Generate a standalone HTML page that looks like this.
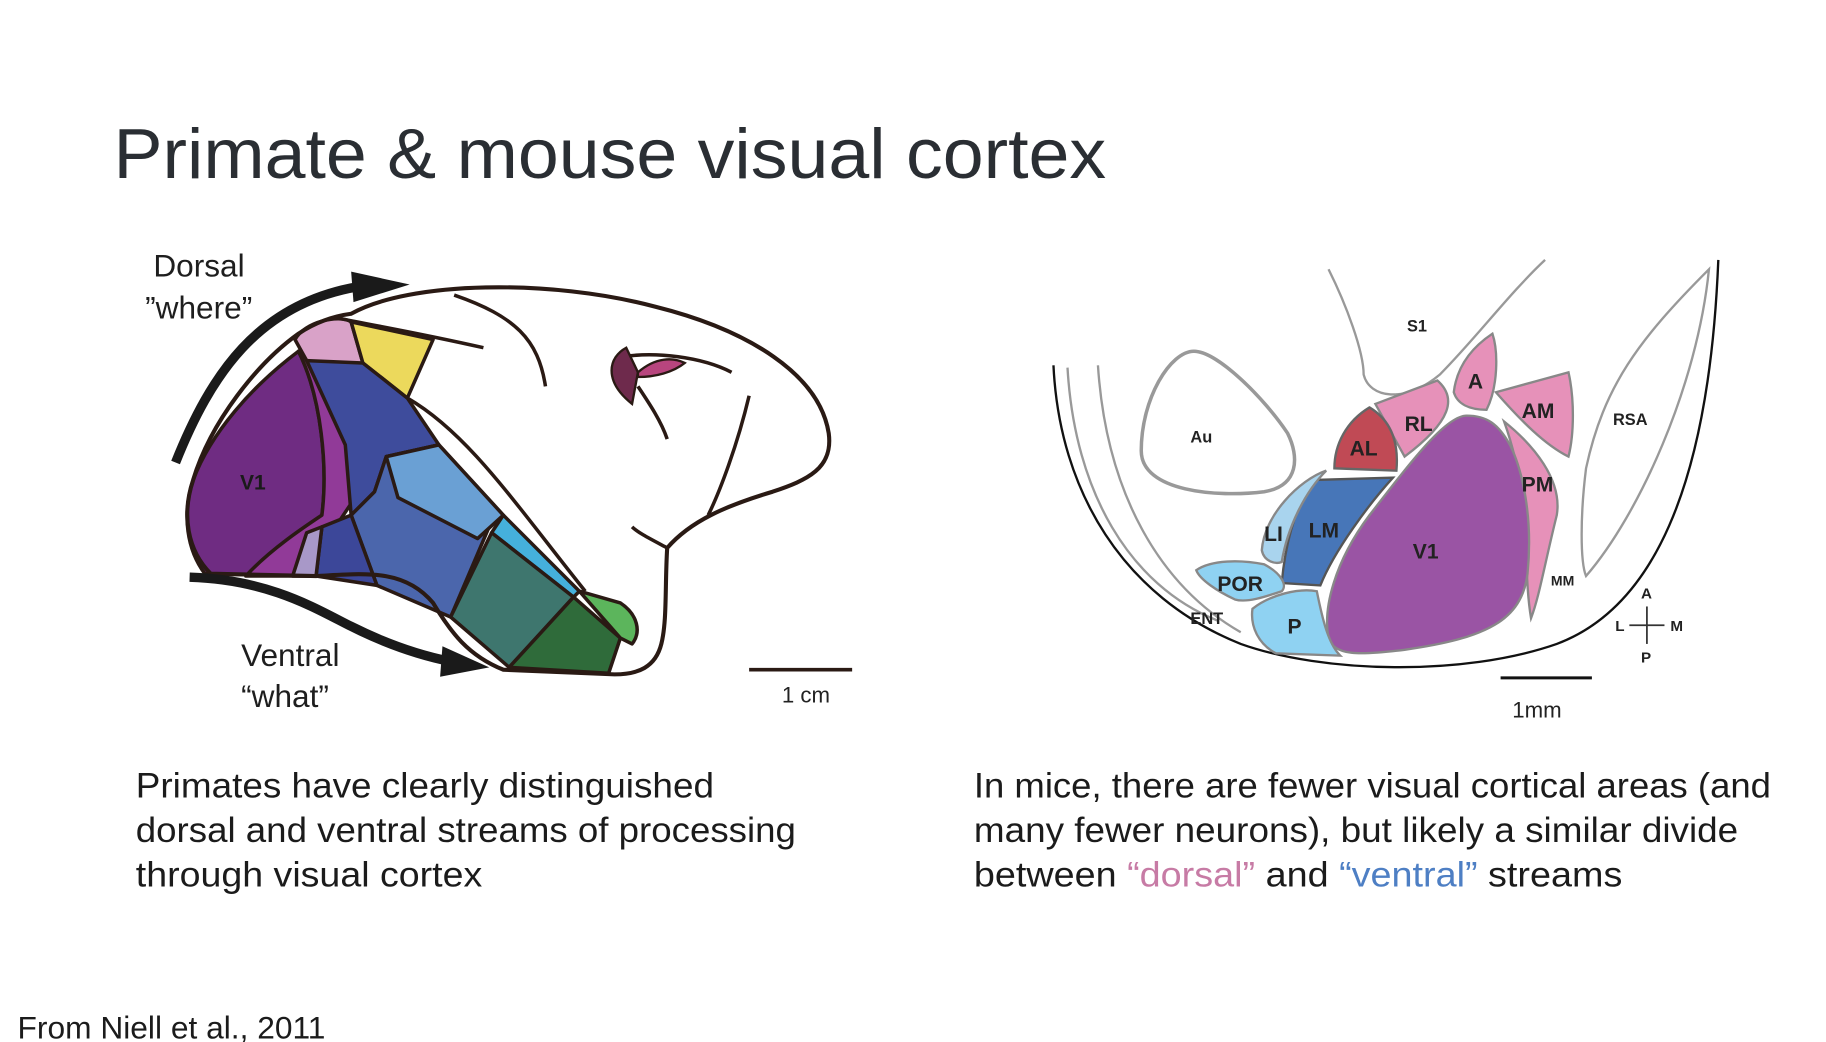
<!DOCTYPE html>
<html><head><meta charset="utf-8"><style>
html,body{margin:0;padding:0;background:#fff;width:1826px;height:1042px;overflow:hidden}
svg{display:block}
text{font-family:"Liberation Sans",sans-serif}
</style></head><body>
<svg width="1826" height="1042" viewBox="0 0 1560 890" preserveAspectRatio="none" xmlns="http://www.w3.org/2000/svg">
<text x="97" y="152" font-size="60" fill="#2a2e33" textLength="848" lengthAdjust="spacingAndGlyphs">Primate &amp; mouse visual cortex</text>

<!-- Primate brain -->
<g stroke="#2a1a14" stroke-width="3" stroke-linejoin="round">
<path d="M255,300 C215,330 180,370 165,410 C155,440 160,470 175,490 L270,492 L275,440 C280,400 275,340 255,300 Z" fill="#6f2c82"/>
<path d="M255,300 L275,290 C290,330 300,380 300,430 L280,460 L270,492 L210,492 C230,470 260,450 275,440 C280,400 275,340 255,300Z" fill="#913a98"/>
<path d="M252,290 C260,275 290,268 300,275 L310,310 C295,315 270,315 262,308 Z" fill="#d9a2c8"/>
<path d="M300,275 L370,290 L348,340 L310,310 Z" fill="#ecd95c"/>
<path d="M262,308 L310,310 L348,340 L375,380 L330,390 L320,420 L300,440 L295,380 Z" fill="#3e4c9c"/>
<path d="M300,440 L320,420 L330,390 L375,380 L430,440 L420,445 L385,527 L322,500 Z" fill="#4b66ac"/>
<path d="M330,390 L375,380 L430,440 L408,460 L340,425 Z" fill="#6aa0d4"/>
<path d="M270,492 L275,450 L300,440 L322,500 Z" fill="#3c4799"/>
<path d="M250,492 L262,455 L275,450 L270,492 Z" fill="#a898c8"/>
<path d="M430,440 L495,505 L490,510 L420,455 Z" fill="#45b0dc"/>
<path d="M420,455 L490,510 L435,570 L385,527 Z" fill="#3e766e"/>
<path d="M490,510 L530,545 L520,575 L435,570 Z" fill="#2f6b3a"/>
<path d="M495,505 L530,515 C545,525 548,540 540,550 L530,545 Z" fill="#5cb55c"/>
</g>
<path d="M300,268 C350,240 470,238 560,262 C640,282 700,320 708,370 C712,400 690,410 660,420 C620,432 590,445 570,468 C568,500 570,530 565,550 C560,570 545,576 525,576 L430,572 C400,560 385,540 370,515 C345,485 310,490 270,492 L180,490 C160,470 155,440 165,410 C180,360 220,310 255,285 C270,275 285,270 300,268 Z" fill="none" stroke="#2a1a14" stroke-width="3.5"/>
<g fill="none" stroke="#2a1a14" stroke-width="3">
<path d="M290,272 C330,280 360,285 413,297"/>
<path d="M388,252 C440,270 460,290 466,330"/>
<path d="M348,340 C400,370 440,430 500,505"/>
<path d="M530,305 C560,300 600,305 625,318"/>
<path d="M545,330 C555,345 565,360 570,375"/>
<path d="M640,338 C630,380 615,420 605,440"/>
<path d="M570,468 C555,460 545,455 540,450"/>
</g>
<path d="M535,297 C520,305 515,325 540,345 L545,318 Z" fill="#6e2a4c" stroke="#2a1a14" stroke-width="2"/>
<path d="M545,318 C560,305 575,305 585,310 C575,318 560,322 545,322 Z" fill="#b8457e" stroke="#2a1a14" stroke-width="2"/>
<path d="M150,395 C180,320 220,260 305,245" fill="none" stroke="#1a1a1a" stroke-width="8"/>
<path d="M300,232 L350,243 L302,258 Z" fill="#1a1a1a"/>
<path d="M162,493 C230,495 270,520 300,535 C330,550 360,560 385,565" fill="none" stroke="#1a1a1a" stroke-width="8"/>
<path d="M378,552 L418,570 L376,578 Z" fill="#1a1a1a"/>
<g fill="#1e1e1e" font-size="27">
<text x="131" y="236">Dorsal</text>
<text x="124" y="272">”where”</text>
<text x="206" y="569">Ventral</text>
<text x="206" y="604">“what”</text>
</g>
<text x="205" y="418" font-size="18" font-weight="bold" fill="#1a1a1a">V1</text>
<line x1="640" y1="572" x2="728" y2="572" stroke="#2a1a14" stroke-width="3"/>
<text x="668" y="600" font-size="19" fill="#222">1 cm</text>

<!-- Mouse -->
<g fill="none" stroke="#111" stroke-width="2">
<path d="M900,312 C905,420 960,510 1060,550 C1130,575 1250,578 1330,550 C1410,520 1460,420 1468,222"/>
</g>
<g fill="none" stroke="#999" stroke-width="2">
<path d="M912,314 C918,420 965,500 1040,530"/>
<path d="M938,312 C945,420 990,500 1060,540"/>
<path d="M1135,230 C1150,260 1165,300 1165,320 C1170,340 1200,345 1230,320 C1260,290 1290,250 1320,222"/>
<path d="M1460,230 C1400,290 1370,330 1355,400 C1350,440 1350,480 1355,492 C1400,440 1450,330 1460,230 Z"/>
</g>
<path d="M1020,300 C1000,300 975,340 975,385 C975,420 1040,425 1080,420 C1110,415 1110,390 1100,370 C1080,340 1040,300 1020,300 Z" fill="#fff" stroke="#999" stroke-width="3"/>
<path d="M1275,285 C1280,300 1280,330 1270,350 C1255,350 1245,345 1242,335 C1245,310 1260,295 1275,285Z" fill="#e691b9" stroke="#888" stroke-width="2"/>
<path d="M1175,345 L1228,325 C1245,340 1240,360 1200,390 Z" fill="#e691b9" stroke="#888" stroke-width="2"/>
<path d="M1278,335 L1340,318 C1345,340 1345,370 1340,390 C1320,380 1300,360 1278,335Z" fill="#e691b9" stroke="#888" stroke-width="2"/>
<path d="M1285,360 C1310,380 1335,410 1330,440 C1320,480 1315,510 1308,528 C1300,480 1310,430 1285,360Z" fill="#e691b9" stroke="#888" stroke-width="2"/>
<path d="M1170,348 C1150,360 1140,380 1140,400 L1193,402 C1195,380 1190,360 1170,348Z" fill="#c04a55" stroke="#666" stroke-width="2"/>
<path d="M1253,355 C1235,355 1205,395 1170,440 C1140,480 1130,520 1135,545 C1140,560 1160,560 1200,555 C1270,545 1300,530 1305,490 C1310,440 1300,400 1290,380 C1280,362 1270,355 1253,355Z" fill="#9a54a4" stroke="#888" stroke-width="2"/>
<path d="M1120,410 L1190,408 C1170,430 1140,470 1128,500 L1095,498 C1098,465 1105,440 1120,410Z" fill="#4776b8" stroke="#555" stroke-width="2"/>
<path d="M1133,402 C1110,410 1080,440 1078,470 C1080,480 1090,482 1095,480 C1100,450 1115,420 1133,402Z" fill="#a9d4ee" stroke="#888" stroke-width="2"/>
<path d="M1022,487 C1035,478 1060,478 1080,482 C1095,490 1100,500 1095,505 C1080,510 1065,515 1055,512 C1040,505 1025,495 1022,487Z" fill="#8fd2f2" stroke="#888" stroke-width="2"/>
<path d="M1070,520 C1085,508 1110,502 1125,505 C1130,530 1135,550 1145,560 L1090,558 C1075,550 1068,535 1070,520Z" fill="#8fd2f2" stroke="#888" stroke-width="2"/>
<g font-weight="bold" fill="#222">
<text x="1202" y="283" font-size="14">S1</text>
<text x="1017" y="378" font-size="14">Au</text>
<text x="1378" y="363" font-size="14">RSA</text>
<text x="1254" y="332" font-size="18">A</text>
<text x="1200" y="368" font-size="18">RL</text>
<text x="1300" y="357" font-size="18">AM</text>
<text x="1153" y="389" font-size="18">AL</text>
<text x="1300" y="420" font-size="18">PM</text>
<text x="1080" y="462" font-size="18">LI</text>
<text x="1118" y="459" font-size="18">LM</text>
<text x="1207" y="477" font-size="18">V1</text>
<text x="1040" y="505" font-size="18">POR</text>
<text x="1100" y="541" font-size="18">P</text>
<text x="1017" y="533" font-size="14">ENT</text>
<text x="1325" y="500" font-size="12">MM</text>
<text x="1402" y="511" font-size="13">A</text>
<text x="1402" y="566" font-size="13">P</text>
<text x="1380" y="539" font-size="13">L</text>
<text x="1427" y="539" font-size="13">M</text>
</g>
<line x1="1407" y1="518" x2="1407" y2="550" stroke="#333" stroke-width="1.5"/>
<line x1="1392" y1="534" x2="1422" y2="534" stroke="#333" stroke-width="1.5"/>
<line x1="1282" y1="579" x2="1360" y2="579" stroke="#111" stroke-width="2.5"/>
<text x="1292" y="613" font-size="19" fill="#222">1mm</text>

<g font-size="30" fill="#1b1b1b">
<text x="116" y="681" textLength="494" lengthAdjust="spacingAndGlyphs">Primates have clearly distinguished</text>
<text x="116" y="719" textLength="564" lengthAdjust="spacingAndGlyphs">dorsal and ventral streams of processing</text>
<text x="116" y="757" textLength="296" lengthAdjust="spacingAndGlyphs">through visual cortex</text>
<text x="832" y="681" textLength="681" lengthAdjust="spacingAndGlyphs">In mice, there are fewer visual cortical areas (and</text>
<text x="832" y="719" textLength="653" lengthAdjust="spacingAndGlyphs">many fewer neurons), but likely a similar divide</text>
<text x="832" y="757" textLength="554" lengthAdjust="spacingAndGlyphs">between <tspan fill="#c77ba5">“dorsal”</tspan> and <tspan fill="#4e7fc4">“ventral”</tspan> streams</text>
<text x="15" y="887" font-size="27" textLength="263" lengthAdjust="spacingAndGlyphs">From Niell et al., 2011</text>
</g>
</svg>
</body></html>
